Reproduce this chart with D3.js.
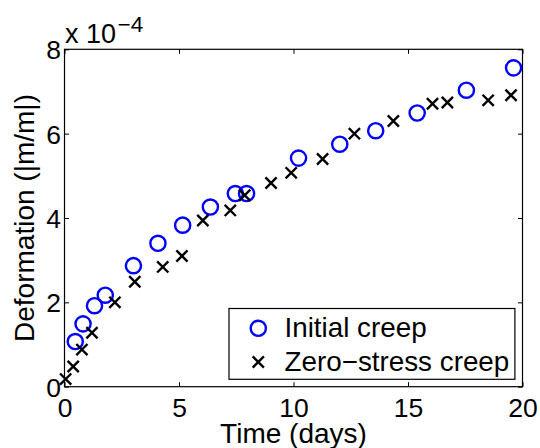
<!DOCTYPE html>
<html>
<head>
<meta charset="utf-8">
<script src="https://cdn.jsdelivr.net/npm/d3@7"></script>
<style>
  html, body { margin: 0; padding: 0; background: #fff; }
  svg { display: block; font-family: "Liberation Sans", Arial, Helvetica, sans-serif; }
</style>
</head>
<body>
<svg id="chart" width="540" height="448"></svg>
<script>
// ---- data (deformation in m/m) ----
const initialTime = [0.47, 0.81, 1.31, 1.78, 3.01, 4.08, 5.16, 6.37, 7.46, 7.95, 10.22, 12.02, 13.59, 15.40, 17.55, 19.61];
const initialDef  = [1.07e-4, 1.49e-4, 1.92e-4, 2.17e-4, 2.87e-4, 3.40e-4, 3.83e-4, 4.26e-4, 4.58e-4, 4.58e-4, 5.42e-4, 5.75e-4, 6.07e-4, 6.49e-4, 7.03e-4, 7.56e-4];
const zeroTime = [0.05, 0.38, 0.76, 1.20, 2.20, 3.07, 4.29, 5.13, 6.04, 7.24, 7.87, 9.02, 9.90, 11.27, 12.66, 14.36, 16.07, 16.72, 18.50, 19.50];
const zeroDef  = [0.18e-4, 0.48e-4, 0.88e-4, 1.28e-4, 2.00e-4, 2.49e-4, 2.84e-4, 3.10e-4, 3.94e-4, 4.18e-4, 4.54e-4, 4.83e-4, 5.07e-4, 5.40e-4, 6.00e-4, 6.30e-4, 6.71e-4, 6.74e-4, 6.79e-4, 6.91e-4];
const xTicks = [0, 5, 10, 15, 20];
const yTicks = [0, 2e-4, 4e-4, 6e-4, 8e-4];
const seriesNames = ["Initial creep", "Zero\u2212stress creep"];
const xLabel = "Time (days)";
const yLabel = "Deformation (|m/m|)";

// ---- layout ----
const L = 64.5, R = 522.5, T = 49.3, B = 386.7;
const svg = d3.select("#chart");
const x = d3.scaleLinear().domain([0, 20]).range([L, R]);
const y = d3.scaleLinear().domain([0, 8e-4]).range([B, T]);
const tickFont = 26.5, labelFont = 28, legendFont = 27.8;

// frame
svg.append("rect").attr("x", L).attr("y", T).attr("width", R - L).attr("height", B - T)
  .attr("fill", "#fff").attr("stroke", "#000").attr("stroke-width", 1.2);

const fmtY = d => String(Math.round(d * 1e4));
// bottom axis (inward ticks)
const gx = svg.append("g").attr("transform", `translate(0,${B})`)
  .call(d3.axisBottom(x).tickValues(xTicks).tickSizeInner(-4.5).tickSizeOuter(0).tickPadding(0).tickFormat(d3.format("d")));
gx.select(".domain").remove();
gx.selectAll("line").attr("stroke", "#000").attr("stroke-width", 1);
gx.selectAll("text").attr("font-size", tickFont).attr("fill", "#000").attr("dy", null).attr("y", 30.8).attr("font-family", null);

// top ticks
const gxt = svg.append("g").attr("transform", `translate(0,${T})`)
  .call(d3.axisTop(x).tickValues(xTicks).tickSizeInner(-4.5).tickSizeOuter(0).tickFormat(""));
gxt.select(".domain").remove();
gxt.selectAll("line").attr("stroke", "#000").attr("stroke-width", 1);

// left axis
const gy = svg.append("g").attr("transform", `translate(${L},0)`)
  .call(d3.axisLeft(y).tickValues(yTicks).tickSizeInner(-4.5).tickSizeOuter(0).tickPadding(0).tickFormat(fmtY));
gy.select(".domain").remove();
gy.selectAll("line").attr("stroke", "#000").attr("stroke-width", 1);
gy.selectAll("text").attr("font-size", tickFont).attr("fill", "#000").attr("x", -3.5).attr("dy", "0.36em").attr("font-family", null);

// right ticks
const gyr = svg.append("g").attr("transform", `translate(${R},0)`)
  .call(d3.axisRight(y).tickValues(yTicks).tickSizeInner(-4.5).tickSizeOuter(0).tickFormat(""));
gyr.select(".domain").remove();
gyr.selectAll("line").attr("stroke", "#000").attr("stroke-width", 1);

// exponent label
const ex = svg.append("text").attr("x", 65).attr("y", 42.7).attr("font-size", 27).attr("fill", "#000");
ex.append("tspan").text("x 10");
ex.append("tspan").attr("x", 117.5).attr("y", 31.5).attr("font-size", 22.5).text("\u22124");

// axis labels
svg.append("text").attr("x", (L + R) / 2).attr("y", 443).attr("text-anchor", "middle")
  .attr("font-size", labelFont).attr("fill", "#000").text(xLabel);
svg.append("text").attr("transform", `translate(33.5,${(T + B) / 2}) rotate(-90)`).attr("text-anchor", "middle")
  .attr("font-size", labelFont).attr("fill", "#000").text(yLabel);

// markers
const circR = 7.6, crossH = 5.6, mStroke = 2.4;
function drawCross(g, cx, cy) {
  g.append("path")
    .attr("d", `M${cx - crossH},${cy - crossH}L${cx + crossH},${cy + crossH}M${cx - crossH},${cy + crossH}L${cx + crossH},${cy - crossH}`)
    .attr("stroke", "#000").attr("stroke-width", mStroke).attr("fill", "none");
}
const gC = svg.append("g");
const gX = svg.append("g");
initialTime.forEach((t, i) => {
  gC.append("circle").attr("cx", x(t)).attr("cy", y(initialDef[i])).attr("r", circR)
    .attr("fill", "none").attr("stroke", "#0000ff").attr("stroke-width", mStroke);
});
zeroTime.forEach((t, i) => drawCross(gX, x(t), y(zeroDef[i])));

// legend
const lg = svg.append("g");
lg.append("rect").attr("x", 229).attr("y", 308.5).attr("width", 514.9 - 229).attr("height", 379.3 - 308.5)
  .attr("fill", "#fff").attr("stroke", "#000").attr("stroke-width", 1.2);
lg.append("circle").attr("cx", 258.3).attr("cy", 328.3).attr("r", circR)
  .attr("fill", "none").attr("stroke", "#0000ff").attr("stroke-width", mStroke);
drawCross(lg, 258.3, 362);
lg.append("text").attr("x", 284.5).attr("y", 337).attr("font-size", legendFont).attr("fill", "#000").text(seriesNames[0]);
lg.append("text").attr("x", 284.5).attr("y", 370.5).attr("font-size", legendFont).attr("fill", "#000").text(seriesNames[1]);
</script>
</body>
</html>
